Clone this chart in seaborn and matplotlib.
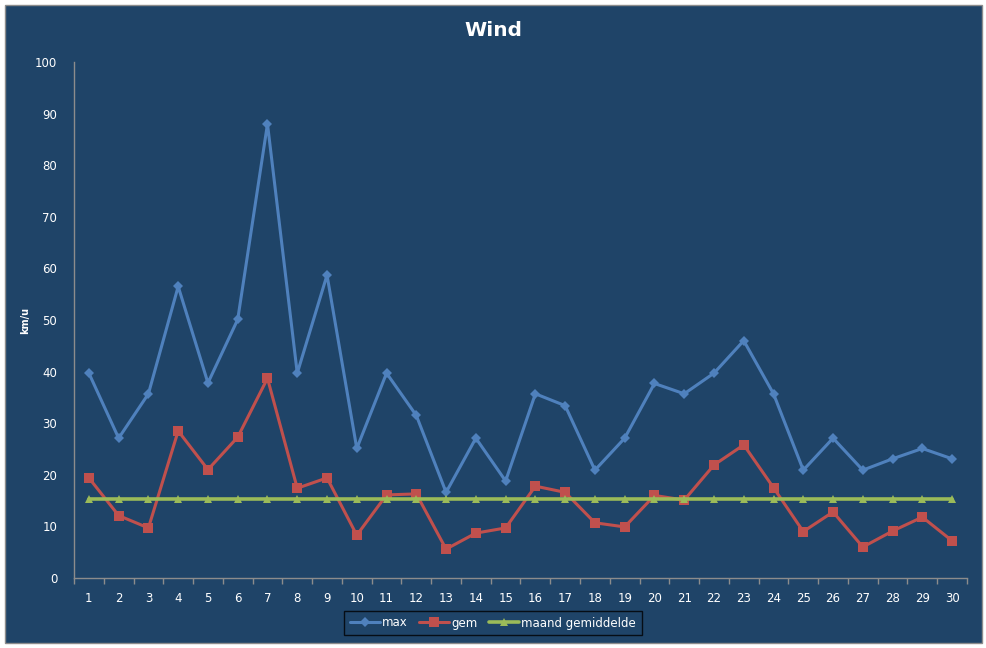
import matplotlib
matplotlib.use('Agg')
import matplotlib.pyplot as plt
import seaborn as sns
import pandas as pd
from matplotlib.patches import Rectangle
from matplotlib.lines import Line2D

# data
days = list(range(1, 31))
max_wind = [39.7, 27.1, 35.7, 56.5, 37.8, 50.1, 88.0, 39.7, 58.7, 25.1,
            39.7, 31.5, 16.6, 27.1, 18.8, 35.7, 33.4, 20.9, 27.1, 37.7,
            35.7, 39.7, 46.0, 35.7, 20.9, 27.1, 20.9, 23.1, 25.1, 23.1]
gem_wind = [19.4, 12.1, 9.7, 28.5, 21.0, 27.3, 38.7, 17.4, 19.4, 8.3,
            16.1, 16.3, 5.6, 8.7, 9.7, 17.8, 16.6, 10.7, 9.9, 16.0,
            15.1, 21.9, 25.8, 17.5, 9.0, 12.8, 6.0, 9.1, 11.8, 7.2]
maand_gem = [15.3, 15.3, 15.3, 15.3, 15.3, 15.3, 15.3, 15.3, 15.3, 15.3,
             15.3, 15.3, 15.3, 15.3, 15.3, 15.3, 15.3, 15.3, 15.3, 15.3,
             15.3, 15.3, 15.3, 15.3, 15.3, 15.3, 15.3, 15.3, 15.3, 15.3]
series_names = ['max', 'gem', 'maand gemiddelde']

bg = '#1F4468'
txt = '#FFFFFF'
spine = '#8C8C8C'

sns.set_style('white')
plt.rcParams['font.family'] = ['DejaVu Sans']

df = pd.DataFrame({'dag': days, 'max': max_wind, 'gem': gem_wind, 'maand gemiddelde': maand_gem})

fig = plt.figure(figsize=(9.87, 6.48), dpi=100, facecolor='white')
fig.patches.append(Rectangle((5 / 987, 5 / 648), 977 / 987, 638 / 648, transform=fig.transFigure,
                             facecolor=bg, edgecolor='#8C8C8C', linewidth=1, zorder=-10))
ax = fig.add_axes([74 / 987, 1 - 578 / 648, 893 / 987, 516 / 648])
ax.set_facecolor(bg)

styles = {
    'max': dict(color='#4F81BD', marker='D', markersize=5, lw=2.2),
    'gem': dict(color='#C0504D', marker='s', markersize=7.5, lw=2.2),
    'maand gemiddelde': dict(color='#9BBB59', marker='^', markersize=6, lw=2.6),
}
for name in series_names:
    st = styles[name]
    sns.lineplot(data=df, x='dag', y=name, ax=ax, color=st['color'], marker=st['marker'],
                 markersize=st['markersize'], markeredgewidth=0, linewidth=st['lw'], legend=False)

ax.set_xlim(0.5, 30.5)
ax.set_ylim(0, 100)
ax.set_xticks(days)
ax.set_xticklabels([str(d) for d in days])
ax.set_xticks([d + 0.5 for d in range(0, 31)], minor=True)
ax.set_yticks(range(0, 101, 10))
ax.tick_params(axis='x', which='major', length=0, pad=10, colors=txt, labelsize=8.5)
ax.tick_params(axis='x', which='minor', length=4, width=1, color=spine, direction='out', bottom=True)
ax.tick_params(axis='y', length=4, width=1, color=spine, direction='out', pad=8, colors=txt, labelsize=8.5)
ax.tick_params(axis='y', color=spine)
for s in ['top', 'right']:
    ax.spines[s].set_visible(False)
for s in ['left', 'bottom']:
    ax.spines[s].set_color(spine)
    ax.spines[s].set_linewidth(1)
ax.set_xlabel('')
ax.set_ylabel('km/u', color=txt, fontsize=7, fontweight='bold')
ax.yaxis.set_label_coords(-44 / 893, 0.5)

fig.text(493 / 987, 1 - 31 / 648, 'Wind', ha='center', va='center', color=txt, fontsize=14.5, fontweight='bold')

handles = [Line2D([], [], color=styles[n]['color'], marker=styles[n]['marker'],
                  markersize=styles[n]['markersize'], markeredgewidth=0, linewidth=styles[n]['lw'])
           for n in series_names]
leg = fig.legend(handles, series_names, loc='center', bbox_to_anchor=(493 / 987, 1 - 623 / 648), ncol=3,
                 frameon=True, fancybox=False, facecolor=bg, edgecolor='black', fontsize=8.5,
                 handlelength=2.5, columnspacing=1.0, handletextpad=0.2, borderpad=0.5)
leg.get_frame().set_linewidth(1)
for t in leg.get_texts():
    t.set_color(txt)

fig.savefig('out.png', dpi=100, facecolor='white')
